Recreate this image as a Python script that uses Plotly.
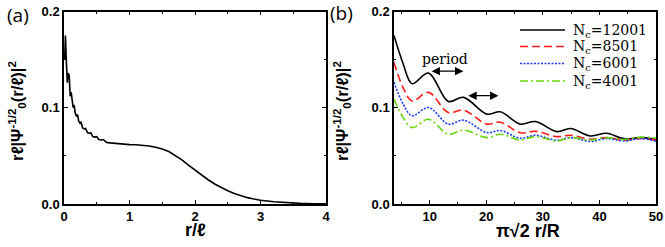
import plotly.graph_objects as go

# ---------------- Panel (a) data ----------------
a_x = [0.010, 0.022, 0.035, 0.050, 0.065, 0.080, 0.095, 0.110, 0.125, 0.140,
       0.155, 0.170, 0.190, 0.205, 0.225, 0.245, 0.260, 0.285, 0.310, 0.330,
       0.360, 0.390, 0.410, 0.440, 0.470, 0.500, 0.530, 0.570, 0.600, 0.650,
       0.700, 0.750, 0.800, 0.900, 1.000, 1.100, 1.200, 1.300, 1.400, 1.500,
       1.600, 1.700, 1.800, 1.900, 2.000, 2.100, 2.200, 2.300, 2.400, 2.500,
       2.600, 2.700, 2.800, 2.900, 3.000, 3.200, 3.400, 3.600, 3.800, 4.000]
a_y = [0.150, 0.175, 0.150, 0.126, 0.136, 0.133, 0.112, 0.116, 0.108, 0.100,
       0.103, 0.095, 0.091, 0.093, 0.086, 0.084, 0.085, 0.079, 0.078, 0.0785,
       0.074, 0.0735, 0.074, 0.070, 0.0695, 0.070, 0.067, 0.0665, 0.067, 0.064,
       0.0635, 0.0632, 0.0622, 0.0618, 0.0617, 0.0616, 0.0612, 0.0603, 0.0590, 0.0572,
       0.0545, 0.0505, 0.0458, 0.0405, 0.0352, 0.0300, 0.0252, 0.0208, 0.0170, 0.0137,
       0.0108, 0.0085, 0.0066, 0.0051, 0.0039, 0.0023, 0.0013, 0.0007, 0.0003, 0.0001]

# ---------------- Panel (b) data ----------------
b_x = [3.7, 5.3, 6.9, 9.8, 13.3, 16.0, 20.1, 22.5, 26.0, 28.7, 32.5, 34.9,
       38.4, 41.3, 44.3, 47.5, 50.0]
nc_12001 = [0.175, 0.146, 0.125, 0.136, 0.1066, 0.1108, 0.0934, 0.0958, 0.083,
            0.0857, 0.0752, 0.0784, 0.0707, 0.0735, 0.0679, 0.069, 0.067]
nc_8501 = [0.147, 0.121, 0.107, 0.116, 0.095, 0.0976, 0.083, 0.085, 0.074,
           0.0755, 0.070, 0.0714, 0.0673, 0.069, 0.0663, 0.068, 0.0663]
nc_6001 = [0.1265, 0.104, 0.0917, 0.1003, 0.083, 0.0871, 0.0742, 0.0763, 0.0683,
           0.0714, 0.0662, 0.069, 0.065, 0.068, 0.0655, 0.068, 0.065]
nc_4001 = [0.109, 0.090, 0.0794, 0.088, 0.0725, 0.0767, 0.069, 0.0725, 0.0665,
           0.070, 0.0655, 0.069, 0.0665, 0.069, 0.067, 0.0695, 0.0685]
series_names = ["N<sub>c</sub>=12001", "N<sub>c</sub>=8501",
                "N<sub>c</sub>=6001", "N<sub>c</sub>=4001"]

# period arrows (x0, x1, y) in data units of panel (b)
arrow1 = (10.07, 15.97, 0.138)
arrow2 = (16.56, 22.16, 0.1125)

W, H = 665, 247
def px(xp):
    return xp / W
def py(yp):
    return (H - yp) / H

fig = go.Figure()
fig.add_trace(go.Scatter(x=a_x, y=a_y, mode="lines", xaxis="x", yaxis="y",
                         line=dict(color="black", width=1.6), showlegend=False))

styles = [dict(color="black", width=1.6, dash="solid"),
          dict(color="#ff1a1a", width=1.6, dash="8px,4px"),
          dict(color="#1a3cff", width=1.6, dash="2px,1.5px"),
          dict(color="#66d40a", width=1.6, dash="8px,3px,2px,3px")]
for ys, nm, st in zip([nc_12001, nc_8501, nc_6001, nc_4001], series_names, styles):
    fig.add_trace(go.Scatter(x=b_x, y=ys, mode="lines", xaxis="x2", yaxis="y2",
                             name=nm, showlegend=False,
                             line=dict(shape="spline", smoothing=1.0, **st)))

tickfont = dict(family="Liberation Sans", size=13, color="black", weight="bold")
common = dict(showline=True, linecolor="black", linewidth=1.5, mirror="ticks",
              ticks="inside", ticklen=4, tickwidth=1.2, tickcolor="black",
              showgrid=False, zeroline=False, tickfont=tickfont, automargin=False)
ydom = [py(204), py(11.5)]

fig.update_layout(
    width=W, height=H, margin=dict(l=0, r=0, t=0, b=0),
    paper_bgcolor="white", plot_bgcolor="white", showlegend=False,
    xaxis=dict(domain=[px(64), px(326)], range=[0, 4], dtick=1,
               minor=dict(ticks="inside", ticklen=2.5, dtick=0.5, tickcolor="black"),
               anchor="y", **common),
    yaxis=dict(domain=ydom, range=[0, 0.2], dtick=0.1, tickformat=".1f",
               minor=dict(ticks="inside", ticklen=2.5, dtick=0.05, tickcolor="black"),
               anchor="x", **common),
    xaxis2=dict(domain=[px(394), px(656)], range=[3.7, 50.0001], tick0=0, dtick=10,
                minor=dict(ticks="inside", ticklen=2.5, dtick=5, tickcolor="black"),
                anchor="y2", **common),
    yaxis2=dict(domain=ydom, range=[0, 0.2], dtick=0.1, tickformat=".1f",
                minor=dict(ticks="inside", ticklen=2.5, dtick=0.05, tickcolor="black"),
                anchor="x2", **common),
)

# legend (sample line + label) drawn in the upper right of panel (b)
legend_rows = [30, 46.5, 63.5, 81]
for yrow, nm, st in zip(legend_rows, series_names, styles):
    fig.add_shape(type="line", xref="paper", yref="paper",
                  x0=px(520), x1=px(565), y0=py(yrow), y1=py(yrow),
                  line=dict(color=st["color"], width=st["width"], dash=st["dash"]))
    fig.add_annotation(text=nm, x=px(571), y=py(yrow + 1), xref="paper", yref="paper",
                       showarrow=False, xanchor="left", yanchor="middle",
                       font=dict(family="DejaVu Serif", size=14, color="black"))

ytitle = "r\u2113|\u03a8<sup>-1/2</sup><sub>0</sub>(r/\u2113)|<sup>2</sup>"
titlefont = dict(family="Liberation Sans", size=16.5, color="black", weight="bold")
xtitlefont = dict(family="Liberation Sans", size=18, color="black", weight="bold")
ann = [
    dict(text=ytitle, x=px(17), y=py(111), textangle=-90, font=titlefont),
    dict(text=ytitle, x=px(342), y=py(111), textangle=-90, font=titlefont),
    dict(text="r/\u2113", x=px(195), y=py(230), font=xtitlefont),
    dict(text="\u03c0\u221a2 r/R", x=px(528), y=py(231), font=xtitlefont),
    dict(text="(a)", x=px(18), y=py(15),
         font=dict(family="Open Sans", size=19, color="black")),
    dict(text="(b)", x=px(342), y=py(13),
         font=dict(family="Open Sans", size=19, color="black")),
]
for a in ann:
    a.update(xref="paper", yref="paper", showarrow=False, xanchor="center", yanchor="middle")
    fig.add_annotation(**a)

fig.add_annotation(text="period", x=12.7, y=0.151, xref="x2", yref="y2", showarrow=False,
                   font=dict(family="DejaVu Serif", size=14, color="black"))
for (x0, x1, yv) in [arrow1, arrow2]:
    fig.add_annotation(x=x1, y=yv, ax=x0, ay=yv, xref="x2", yref="y2", axref="x2", ayref="y2",
                       text="", showarrow=True, arrowhead=2, startarrowhead=2,
                       arrowside="end+start", arrowwidth=1.2, arrowsize=1.4,
                       startarrowsize=1.4, arrowcolor="black")

fig.write_html("out.html", config={"displayModeBar": False},
               post_script="document.body.style.margin='0';document.body.style.overflow='hidden';")
